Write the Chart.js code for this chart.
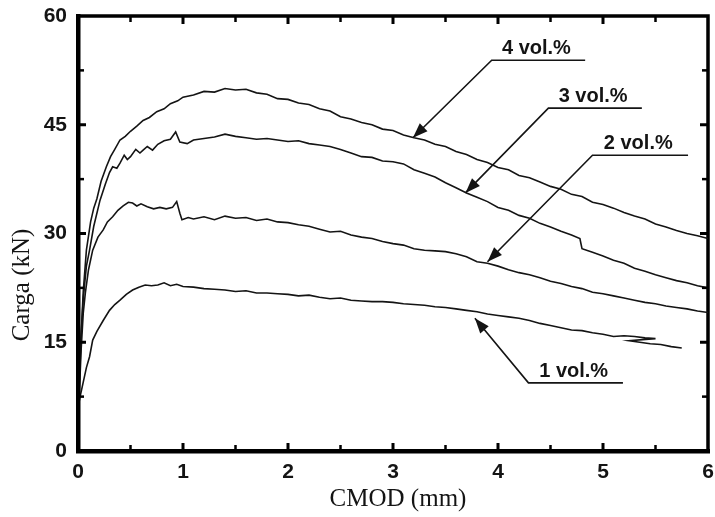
<!DOCTYPE html>
<html>
<head>
<meta charset="utf-8">
<script src="https://cdn.jsdelivr.net/npm/chart.js@4.4.1/dist/chart.umd.min.js"></script>
<style>
  html, body { margin: 0; padding: 0; background: #fff; }
  canvas { display: block; }
</style>
</head>
<body>
<canvas id="chart" width="715" height="517"></canvas>
<script>
// CMOD (mm) / Carga (kN)
const cmod4 = [0.01, 0.03, 0.05, 0.08, 0.12, 0.15, 0.18, 0.22, 0.27, 0.31, 0.35, 0.40, 0.45, 0.50, 0.56, 0.62, 0.68, 0.75, 0.82, 0.88, 0.95, 1.0, 1.1, 1.2, 1.3, 1.4, 1.5, 1.6, 1.7, 1.8, 1.9, 2.0, 2.1, 2.2, 2.3, 2.4, 2.5, 2.6, 2.7, 2.8, 2.9, 3.0, 3.1, 3.2, 3.3, 3.4, 3.5, 3.6, 3.7, 3.8, 3.9, 4.0, 4.1, 4.2, 4.3, 4.4, 4.5, 4.6, 4.7, 4.8, 4.9, 5.0, 5.1, 5.2, 5.3, 5.4, 5.5, 5.6, 5.7, 5.8, 5.9, 6.0];
const load4 = [8, 16, 22, 27.7, 31.6, 33.5, 34.8, 37.2, 39.2, 40.6, 41.6, 42.9, 43.4, 44.1, 44.8, 45.6, 46.0, 46.8, 47.2, 47.9, 48.3, 48.8, 49.1, 49.6, 49.5, 50.0, 49.8, 49.9, 49.4, 49.2, 48.6, 48.5, 48.0, 47.8, 47.2, 46.9, 46.1, 45.8, 45.3, 45.0, 44.4, 44.2, 43.6, 43.2, 42.9, 42.3, 42.0, 41.3, 40.9, 40.2, 39.8, 39.1, 38.8, 38.0, 37.7, 37.1, 36.5, 36.1, 35.4, 35.1, 34.3, 34.0, 33.5, 32.9, 32.4, 32.0, 31.3, 30.9, 30.4, 30.0, 29.7, 29.3];

const cmod3 = [0.01, 0.03, 0.05, 0.08, 0.11, 0.15, 0.21, 0.26, 0.30, 0.33, 0.37, 0.40, 0.44, 0.47, 0.50, 0.55, 0.59, 0.62, 0.66, 0.71, 0.76, 0.82, 0.88, 0.93, 0.97, 1.04, 1.1, 1.2, 1.3, 1.4, 1.5, 1.6, 1.7, 1.8, 1.9, 2.0, 2.1, 2.2, 2.3, 2.4, 2.5, 2.6, 2.7, 2.8, 2.9, 3.0, 3.1, 3.2, 3.3, 3.4, 3.5, 3.6, 3.7, 3.8, 3.9, 4.0, 4.1, 4.2, 4.3, 4.4, 4.5, 4.6, 4.7, 4.78, 4.8, 4.9, 5.0, 5.1, 5.2, 5.3, 5.4, 5.5, 5.6, 5.7, 5.8, 5.9, 6.0];
const load3 = [10, 16, 21, 25.5, 27.7, 31, 34.6, 36.8, 38.4, 39.2, 39.0, 39.7, 40.8, 40.2, 40.6, 41.6, 41.1, 41.5, 42.0, 41.5, 42.3, 42.8, 43.0, 44.0, 42.6, 42.4, 42.9, 43.1, 43.3, 43.7, 43.4, 43.2, 43.0, 43.1, 42.9, 42.7, 42.8, 42.4, 42.2, 42.0, 41.6, 41.1, 40.6, 40.5, 40.0, 39.9, 39.6, 38.8, 38.3, 37.8, 37.0, 36.3, 35.6, 35.0, 34.4, 33.6, 33.2, 32.5, 32.1, 31.4, 30.9, 30.3, 29.8, 29.3, 27.9, 27.4, 26.9, 26.3, 25.9, 25.2, 24.8, 24.3, 23.9, 23.5, 23.2, 22.8, 22.5];

const cmod2 = [0.01, 0.03, 0.05, 0.07, 0.10, 0.14, 0.19, 0.24, 0.28, 0.33, 0.38, 0.43, 0.48, 0.52, 0.56, 0.60, 0.66, 0.72, 0.78, 0.84, 0.90, 0.94, 0.97, 0.99, 1.05, 1.1, 1.2, 1.3, 1.4, 1.5, 1.6, 1.7, 1.8, 1.9, 2.0, 2.1, 2.2, 2.3, 2.4, 2.5, 2.6, 2.7, 2.8, 2.9, 3.0, 3.1, 3.2, 3.3, 3.4, 3.5, 3.6, 3.7, 3.8, 3.9, 4.0, 4.1, 4.2, 4.3, 4.4, 4.5, 4.6, 4.7, 4.8, 4.9, 5.0, 5.1, 5.2, 5.3, 5.4, 5.5, 5.6, 5.7, 5.8, 5.9, 6.0];
const load2 = [7, 14, 19, 21.8, 25, 27.7, 29.5, 30.5, 31.6, 32.3, 33.2, 33.8, 34.3, 34.2, 33.8, 34.1, 33.7, 33.4, 33.6, 33.4, 33.6, 34.4, 32.8, 31.9, 32.2, 32.0, 32.3, 31.9, 32.4, 32.1, 32.2, 31.8, 32.0, 31.6, 31.5, 31.2, 31.0, 30.6, 30.2, 30.3, 29.8, 29.5, 29.3, 28.9, 28.6, 28.4, 27.9, 27.7, 27.6, 27.5, 27.2, 26.8, 26.1, 25.9, 25.5, 25.0, 24.6, 24.3, 23.9, 23.4, 23.1, 22.7, 22.4, 21.9, 21.7, 21.4, 21.1, 20.8, 20.5, 20.3, 20.0, 19.8, 19.6, 19.3, 19.1];

const cmod1 = [0.0, 0.02, 0.05, 0.08, 0.11, 0.14, 0.18, 0.24, 0.30, 0.35, 0.40, 0.46, 0.52, 0.58, 0.64, 0.70, 0.76, 0.82, 0.88, 0.94, 1.0, 1.1, 1.2, 1.3, 1.4, 1.5, 1.6, 1.7, 1.8, 1.9, 2.0, 2.1, 2.2, 2.3, 2.4, 2.5, 2.6, 2.7, 2.8, 2.9, 3.0, 3.1, 3.2, 3.3, 3.4, 3.5, 3.6, 3.7, 3.8, 3.9, 4.0, 4.1, 4.2, 4.3, 4.4, 4.5, 4.6, 4.7, 4.8, 4.9, 5.0, 5.1, 5.2, 5.3, 5.4, 5.5, 5.25, 5.35, 5.45, 5.55, 5.65, 5.75];
const load1 = [6, 7.5, 9.5, 11.5, 13, 15.3, 16.5, 18, 19.4, 20.2, 20.8, 21.6, 22.2, 22.6, 22.9, 22.8, 22.9, 23.2, 22.8, 23.0, 22.7, 22.6, 22.4, 22.3, 22.2, 22.0, 22.1, 21.8, 21.8, 21.7, 21.6, 21.4, 21.5, 21.2, 21.0, 21.1, 20.8, 20.7, 20.6, 20.6, 20.5, 20.3, 20.2, 20.1, 19.9, 19.8, 19.6, 19.4, 19.2, 18.9, 18.7, 18.5, 18.3, 18.0, 17.6, 17.3, 17.0, 16.7, 16.6, 16.3, 16.1, 15.8, 15.9, 15.8, 15.6, 15.5, 15.2, 15.0, 14.8, 14.7, 14.4, 14.2];

const seriesNames = ["4 vol.%", "3 vol.%", "2 vol.%", "1 vol.%"];
const xTicks = [0, 1, 2, 3, 4, 5, 6];
const yTicks = [0, 15, 30, 45, 60];

// corners of the plot box, in axis units (traced as a closed line)
const boxX = [0, 6, 6, 0, 0];
const boxY = [0, 0, 60, 60, 0];

// callouts: label, arrow tip, elbow of the leader, end of the underline (data units)
const callouts = [
  { text: "4 vol.%", tip: [3.19, 43.2], elbow: [3.94, 53.9], end: 4.83 },
  { text: "3 vol.%", tip: [3.69, 35.6], elbow: [4.48, 47.3], end: 5.37 },
  { text: "2 vol.%", tip: [3.90, 26.1], elbow: [4.90, 40.8], end: 5.81 },
  { text: "1 vol.%", tip: [3.78, 18.3], elbow: [4.29, 9.4], end: 5.19 }
];

function toPoints(xs, ys) {
  return xs.map(function (x, i) { return { x: x, y: ys[i] }; });
}

const pairs = [[cmod4, load4], [cmod3, load3], [cmod2, load2], [cmod1, load1]];

const ink = "#141414";
const tickFont = { family: "'Liberation Sans', Arial, sans-serif", weight: "bold", size: 21 };

// inward ticks, axis titles and callouts
const decor = {
  id: "decor",
  afterDraw(chart) {
    const ctx = chart.ctx;
    const sx = chart.scales.x, sy = chart.scales.y;
    const a = chart.chartArea;
    const L = a.left, R = a.right, T = a.top, B = a.bottom;
    ctx.save();

    ctx.fillStyle = "#000000";
    for (let i = 1; i < 12; i++) {
      const major = i % 2 === 0;
      const len = major ? 8 : 6, w = major ? 3 : 2.5;
      const px = sx.getPixelForValue(i * 0.5);
      ctx.fillRect(px - w / 2, B - len, w, len);
      ctx.fillRect(px - w / 2, T, w, len);
    }
    for (let i = 1; i < 8; i++) {
      const major = i % 2 === 0;
      const len = major ? 8 : 6, w = major ? 3 : 2.5;
      const py = sy.getPixelForValue(i * 7.5);
      ctx.fillRect(L, py - w / 2, len, w);
      ctx.fillRect(R - len, py - w / 2, len, w);
    }

    // heavier left and bottom edges
    ctx.fillRect(L - 2, T - 2, 4.5, B - T + 4);
    ctx.fillRect(L - 2, B - 2, R - L + 4, 4.5);

    // callouts
    ctx.fillStyle = ink;
    ctx.strokeStyle = ink;
    ctx.lineWidth = 1.6;
    ctx.font = "bold 20px 'Liberation Sans', Arial, sans-serif";
    ctx.textAlign = "center";
    ctx.textBaseline = "alphabetic";
    callouts.forEach(function (c) {
      const tx = sx.getPixelForValue(c.tip[0]), ty = sy.getPixelForValue(c.tip[1]);
      const ex = sx.getPixelForValue(c.elbow[0]), ey = sy.getPixelForValue(c.elbow[1]);
      const fx = sx.getPixelForValue(c.end);
      ctx.beginPath();
      ctx.moveTo(fx, ey); ctx.lineTo(ex, ey); ctx.lineTo(tx, ty);
      ctx.stroke();
      // arrow head
      const ang = Math.atan2(ey - ty, ex - tx);
      const hl = 15, hw = 5.5;
      const bx = tx + Math.cos(ang) * hl, by = ty + Math.sin(ang) * hl;
      ctx.beginPath();
      ctx.moveTo(tx, ty);
      ctx.lineTo(bx - Math.sin(ang) * hw, by + Math.cos(ang) * hw);
      ctx.lineTo(bx + Math.sin(ang) * hw, by - Math.cos(ang) * hw);
      ctx.closePath();
      ctx.fill();
      ctx.fillText(c.text, (ex + fx) / 2 - 2, ey - 6);
    });

    // axis titles
    ctx.font = "25px 'Liberation Serif', 'Times New Roman', serif";
    ctx.textBaseline = "middle";
    ctx.fillText("CMOD (mm)", 398, 499);
    ctx.translate(22, 285);
    ctx.rotate(-Math.PI / 2);
    ctx.fillText("Carga (kN)", 0, 0);
    ctx.restore();
  }
};

const curveSets = pairs.map(function (p, i) {
  return {
    label: seriesNames[i],
    data: toPoints(p[0], p[1]),
    showLine: true,
    borderColor: ink,
    borderWidth: 1.6,
    pointRadius: 0,
    tension: 0,
    fill: false
  };
});

curveSets.push({
  label: "frame",
  data: toPoints(boxX, boxY),
  showLine: true,
  borderColor: "#000000",
  borderWidth: 3.5,
  pointRadius: 0,
  tension: 0,
  fill: false,
  clip: false
});

new Chart(document.getElementById("chart").getContext("2d"), {
  type: "scatter",
  data: { datasets: curveSets },
  options: {
    responsive: false,
    animation: false,
    devicePixelRatio: 1,
    layout: { padding: { left: 0, right: 7, top: 16, bottom: 0 } },
    plugins: { legend: { display: false }, tooltip: { enabled: false } },
    scales: {
      x: {
        type: "linear",
        min: 0,
        max: 6,
        afterBuildTicks: function (s) { s.ticks = xTicks.map(function (v) { return { value: v }; }); },
        afterFit: function (s) { s.height = 66; s.paddingLeft = 0; s.paddingRight = 0; },
        grid: { display: false, drawTicks: false },
        border: { display: false },
        ticks: { color: ink, font: tickFont, padding: 9, maxRotation: 0 }
      },
      y: {
        type: "linear",
        min: 0,
        max: 60,
        afterBuildTicks: function (s) { s.ticks = yTicks.map(function (v) { return { value: v }; }); },
        afterFit: function (s) { s.width = 78; s.paddingTop = 0; s.paddingBottom = 0; },
        grid: { display: false, drawTicks: false },
        border: { display: false },
        ticks: { color: ink, font: tickFont, padding: 11 }
      }
    }
  },
  plugins: [decor]
});
</script>
</body>
</html>
